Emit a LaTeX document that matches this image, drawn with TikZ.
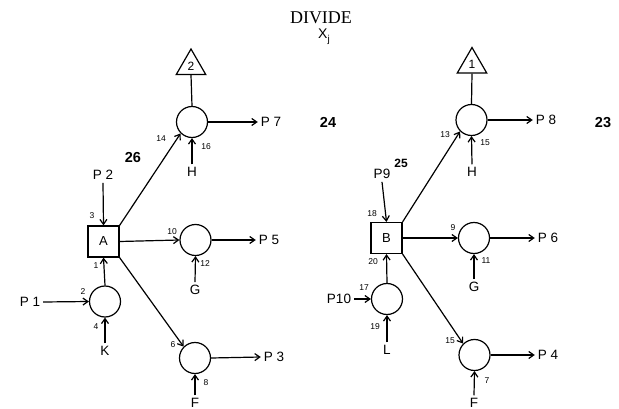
\documentclass[tikz,border=0pt]{standalone}
\usepackage{fontspec}
\setmainfont{Liberation Sans}
\newfontfamily\titlefont{Liberation Serif}
\usetikzlibrary{positioning,arrows.meta,shapes.geometric}

\begin{document}
\begin{tikzpicture}[x=1pt,y=-1pt,line width=1.2pt,
    >={Straight Barb[length=5pt,width=7pt]},
    junc/.style={draw,circle,minimum size=31pt,inner sep=0pt},
    opbox/.style={draw,rectangle,minimum size=31pt,inner sep=0pt,
                  font=\fontsize{13}{13}\selectfont},
    tri/.style={draw,regular polygon,regular polygon sides=3,
                minimum size=34pt,inner sep=0pt,font=\fontsize{12}{12}\selectfont},
    lbl/.style={inner sep=2.5pt,font=\fontsize{13.5}{14}\selectfont},
    num/.style={inner sep=0pt,font=\fontsize{8.5}{9}\selectfont},
    big/.style={inner sep=0pt,font=\fontsize{14.5}{15}\selectfont\bfseries}]
  \useasboundingbox (0,0) rectangle (619,409);
  % title
  \node[inner sep=0pt,font=\titlefont\fontsize{18}{18}\selectfont] (title) at (321,18) {DIVIDE};
  \node[inner sep=0pt,font=\fontsize{14}{14}\selectfont] (xj) at (324,37)
       {X\raisebox{-4pt}{\fontsize{10}{10}\selectfont j}};
  % left group
  \node[tri] (tri2) at (191,66) {2};
  \node[junc] (c14) at (192,122) {};
  \node[opbox] (A) at (103.5,241.5) {A};
  \node[junc] (c10) at (195.5,240) {};
  \node[junc] (c2) at (105,301.5) {};
  \node[junc] (c6) at (195,358) {};
  \node[lbl] (P7) at (271,122) {P 7};
  \node[lbl] (P5) at (269,240) {P 5};
  \node[lbl] (P3) at (274,357) {P 3};
  \node[lbl] (P2) at (103,175) {P 2};
  \node[lbl] (P1) at (30,302) {P 1};
  \node[lbl] (H1) at (192,172) {H};
  \node[lbl] (G1) at (195,290) {G};
  \node[lbl] (K) at (105,351) {K};
  \node[lbl] (F1) at (195,403) {F};
  \draw (tri2.south) -- (c14.north);
  \draw[->] (c14.east) -- (P7.west);
  \draw[->] (c10.east) -- (P5.west);
  \draw[->] (c6.east) -- (P3.west);
  \draw[->] (P2.south) -- (A.north);
  \draw[->] (A.north east) -- (c14.south west);
  \draw[->] (A.east) -- (c10.west);
  \draw[->] (A.south east) -- (c6.north west);
  \draw[->] (c2.north) -- (A.south);
  \draw[->] (P1.east) -- (c2.west);
  \draw[->] (K.north) -- (c2.south);
  \draw[->] (H1.north) -- (c14.south);
  \draw[->] (G1.north) -- (c10.south);
  \draw[->] (F1.north) -- (c6.south);
  \node[num] (n14) at (161,139) {14};
  \node[num] (n16) at (206,147) {16};
  \node[num] (n3) at (92,216) {3};
  \node[num] (n10) at (172,232) {10};
  \node[num] (n12) at (205,264) {12};
  \node[num] (n1) at (96,266) {1};
  \node[num] (n2) at (83,292) {2};
  \node[num] (n4) at (96,327) {4};
  \node[num] (n6) at (173,345) {6};
  \node[num] (n8) at (206,383) {8};
  \node[big] (n26) at (133,158) {26};
  \node[big] (n24) at (328,122) {24};
  % right group
  \node[tri] (tri1) at (472,64.5) {1};
  \node[junc] (c13) at (471.5,120) {};
  \node[opbox] (B) at (386.5,238) {B};
  \node[junc] (c9) at (474,238) {};
  \node[junc] (c17) at (387,299) {};
  \node[junc] (c15) at (474.5,355) {};
  \node[lbl] (P8) at (546,120) {P 8};
  \node[lbl] (P6) at (548,238) {P 6};
  \node[lbl] (P4) at (548,355) {P 4};
  \node[lbl] (P9) at (382,174) {P9};
  \node[lbl] (P10) at (339,299) {P10};
  \node[lbl] (H2) at (472,172) {H};
  \node[lbl] (G2) at (474,287) {G};
  \node[lbl] (L) at (387,350) {L};
  \node[lbl] (F2) at (474,403) {F};
  \draw (tri1.south) -- (c13.north);
  \draw[->] (c13.east) -- (P8.west);
  \draw[->] (c9.east) -- (P6.west);
  \draw[->] (c15.east) -- (P4.west);
  \draw[->] (P9.south) -- (B.north);
  \draw[->] (B.north east) -- (c13.south west);
  \draw[->] (B.east) -- (c9.west);
  \draw[->] (B.south east) -- (c15.north west);
  \draw[->] (c17.north) -- (B.south);
  \draw[->] (P10.east) -- (c17.west);
  \draw[->] (L.north) -- (c17.south);
  \draw[->] (H2.north) -- (c13.south);
  \draw[->] (G2.north) -- (c9.south);
  \draw[->] (F2.north) -- (c15.south);
  \node[num] (n13) at (445,135) {13};
  \node[num] (n15a) at (485,143) {15};
  \node[num] (n18) at (372,214) {18};
  \node[num] (n9) at (453,228) {9};
  \node[num] (n11) at (486,261) {11};
  \node[num] (n20) at (373,262) {20};
  \node[num] (n17) at (364,288) {17};
  \node[num] (n19) at (375,327) {19};
  \node[num] (n15b) at (450,341) {15};
  \node[num] (n7) at (487,381) {7};
  \node[inner sep=0pt,font=\fontsize{12}{12}\selectfont\bfseries] (n25) at (401,163) {25};
  \node[big] (n23) at (603,123) {23};
\end{tikzpicture}
\end{document}
